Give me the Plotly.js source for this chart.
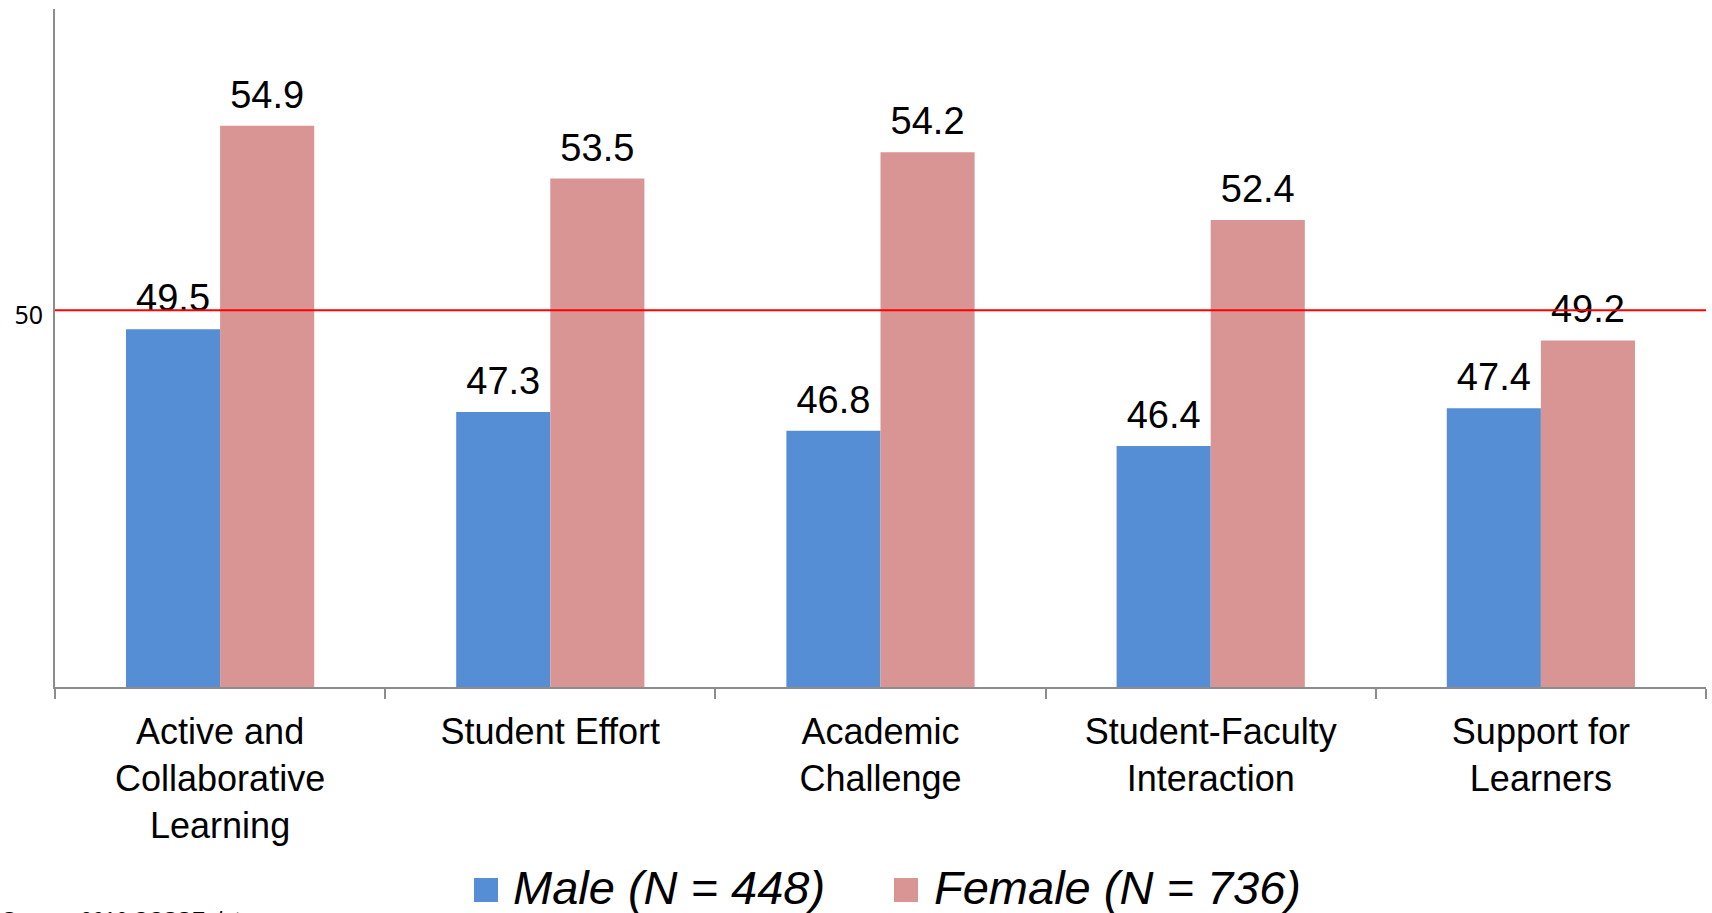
<!DOCTYPE html>
<html>
<head>
<meta charset="utf-8">
<script src="https://cdn.plot.ly/plotly-3.0.1.min.js"></script>
<style>
  html, body { margin: 0; padding: 0; background: #ffffff; }
  #chart { width: 1712px; height: 913px; }
</style>
</head>
<body>
<div id="chart"></div>
<script>
// ---- Data ----
const categories = [
  "Active and<br>Collaborative<br>Learning",
  "Student Effort",
  "Academic<br>Challenge",
  "Student-Faculty<br>Interaction",
  "Support for<br>Learners"
];
const maleValues = [49.5, 47.3, 46.8, 46.4, 47.4];
const femaleValues = [54.9, 53.5, 54.2, 52.4, 49.2];
const maleName = "Male (N = 448)";
const femaleName = "Female (N = 736)";
const referenceValue = 50;
const yTickValues = [50];
const yTickLabels = ["50"];
const sourceNote = "Source: 2016 CCSSE data";

// ---- Styles ----
const maleColor = "#558ED5";
const femaleColor = "#D99594";
const axisGray = "#8C8C8C";
const baseFont = "Liberation Sans, Arial, sans-serif";
const GAP = 0.43;

function barTrace(name, values, color) {
  return {
    type: "bar",
    name: name,
    x: categories,
    y: values,
    marker: { color: color },
    hoverinfo: "skip",
    showlegend: false
  };
}

// value labels, grouped like the bars (scattermode: 'group')
function labelTrace(name, values) {
  return {
    type: "scatter",
    mode: "markers+text",
    name: name + " labels",
    x: categories,
    y: values,
    text: values.map(v => v.toFixed(1)),
    textposition: "top center",
    marker: { size: 12, opacity: 0 },
    textfont: { family: baseFont, size: 38, color: "#000000" },
    cliponaxis: false,
    hoverinfo: "skip",
    showlegend: false
  };
}

const traces = [
  barTrace(maleName, maleValues, maleColor),
  barTrace(femaleName, femaleValues, femaleColor),
  labelTrace(maleName, maleValues),
  labelTrace(femaleName, femaleValues)
];

// paper-coordinate helpers for the decoration (legend & source note)
const W = 1712, H = 913, mL = 55, mR = 6, mT = 9, mB = 226;
const pw = W - mL - mR, ph = H - mT - mB;
const px = x => (x - mL) / pw;
const py = y => (H - mB - y) / ph;

const layout = {
  width: W,
  height: H,
  margin: { l: mL, r: mR, t: mT, b: mB, pad: 0 },
  paper_bgcolor: "#ffffff",
  plot_bgcolor: "#ffffff",
  font: { family: baseFont, color: "#000000" },
  barmode: "group",
  bargap: GAP,
  bargroupgap: 0,
  scattermode: "group",
  scattergap: GAP,
  showlegend: false,
  xaxis: {
    type: "category",
    showline: true,
    linecolor: axisGray,
    linewidth: 2,
    ticks: "outside",
    tickson: "boundaries",
    ticklen: 10,
    tickwidth: 2,
    tickcolor: axisGray,
    showgrid: false,
    zeroline: false,
    ticklabelstandoff: 12,
    tickfont: { family: baseFont, size: 36, color: "#000000" },
    fixedrange: true
  },
  yaxis: {
    range: [40, 58],
    showline: true,
    linecolor: axisGray,
    linewidth: 2,
    showgrid: false,
    zeroline: false,
    ticks: "",
    tickvals: yTickValues,
    ticktext: yTickLabels,
    ticklabelstandoff: 5,
    ticklabelshift: 5,
    tickfont: { family: "Noto Sans, DejaVu Sans, sans-serif", size: 25, color: "#000000" },
    fixedrange: true
  },
  shapes: [
    {
      type: "line", xref: "paper", x0: 0, x1: 1, yref: "y",
      y0: referenceValue, y1: referenceValue,
      line: { color: "#FF0000", width: 2 }, layer: "above"
    },
    {
      type: "rect", xref: "paper", yref: "paper",
      x0: px(474), x1: px(498), y0: py(902), y1: py(878),
      fillcolor: maleColor, line: { width: 0 }
    },
    {
      type: "rect", xref: "paper", yref: "paper",
      x0: px(894), x1: px(918), y0: py(902), y1: py(878),
      fillcolor: femaleColor, line: { width: 0 }
    }
  ],
  annotations: [
    {
      xref: "paper", yref: "paper", x: px(511), y: py(887),
      xanchor: "left", yanchor: "middle", showarrow: false,
      text: "<i>" + maleName + "</i>",
      font: { family: baseFont, size: 47, color: "#000000" }
    },
    {
      xref: "paper", yref: "paper", x: px(932), y: py(887),
      xanchor: "left", yanchor: "middle", showarrow: false,
      text: "<i>" + femaleName + "</i>",
      font: { family: baseFont, size: 47, color: "#000000" }
    },
    {
      xref: "paper", yref: "paper", x: px(-1), y: py(905),
      xanchor: "left", yanchor: "top", showarrow: false,
      text: "<i>" + sourceNote + "</i>",
      font: { family: baseFont, size: 21, color: "#000000" }
    }
  ]
};

Plotly.newPlot("chart", traces, layout, { displayModeBar: false, staticPlot: true });
</script>
</body>
</html>
